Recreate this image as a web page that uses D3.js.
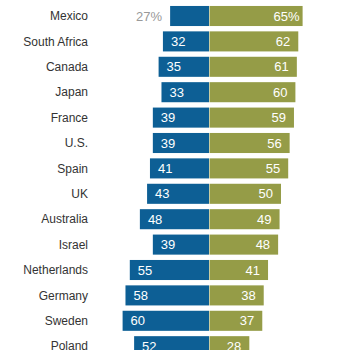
<!DOCTYPE html>
<html>
<head>
<meta charset="utf-8">
<script src="https://cdn.jsdelivr.net/npm/d3@7"></script>
<style>
  body { margin: 0; background: #fff; }
  svg { display: block; font-family: "Liberation Sans", Arial, sans-serif; }
</style>
</head>
<body>
<div id="chart"></div>
<script>
const countries = ["Mexico", "South Africa", "Canada", "Japan", "France", "U.S.", "Spain",
  "UK", "Australia", "Israel", "Netherlands", "Germany", "Sweden", "Poland"];
const leftValues = [27, 32, 35, 33, 39, 39, 41, 43, 48, 39, 55, 58, 60, 52];
const rightValues = [65, 62, 61, 60, 59, 56, 55, 50, 49, 48, 41, 38, 37, 28];

const width = 350, height = 350;
const blue = "#0d5f95", green = "#959c47";

const rows = countries.map((c, i) => ({ country: c, left: leftValues[i], right: rightValues[i], i }));

const svg = d3.select("#chart").append("svg")
  .attr("width", width)
  .attr("height", height);

// center at ~209px, 1.44px per point
const x = d3.scaleLinear().domain([-100, 100]).range([209 - 144, 209 + 144]);
const y = d3.scaleBand()
  .domain(countries)
  .range([3.3, 3.3 + 14 * 25.4])
  .paddingInner(0.21)
  .paddingOuter(0.105);

const row = svg.selectAll(".row")
  .data(rows)
  .join("g")
  .attr("class", "row")
  .attr("transform", d => `translate(0,${y(d.country)})`);

// country labels
row.append("text")
  .attr("x", 88)
  .attr("y", y.bandwidth() / 2)
  .attr("dy", "0.35em")
  .attr("text-anchor", "end")
  .attr("fill", "#333")
  .style("font-size", "12px")
  .text(d => d.country);

// left (blue) bars
row.append("rect")
  .attr("x", d => x(-d.left))
  .attr("width", d => x(0) - x(-d.left))
  .attr("height", y.bandwidth())
  .attr("fill", blue);

// right (green) bars
row.append("rect")
  .attr("x", x(0) + 0.5)
  .attr("width", d => x(d.right) - x(0) - 0.5)
  .attr("height", y.bandwidth())
  .attr("fill", green);

// blue value labels (first row sits outside in grey)
row.append("text")
  .attr("x", d => d.i === 0 ? x(-d.left) - 8 : x(-d.left) + 8)
  .attr("y", y.bandwidth() / 2)
  .attr("dy", "0.36em")
  .attr("text-anchor", d => d.i === 0 ? "end" : "start")
  .attr("fill", d => d.i === 0 ? "#999" : "#fff")
  .style("font-size", "13px")
  .text(d => d.i === 0 ? d.left + "%" : d.left);

// green value labels
row.append("text")
  .attr("x", d => d.i === 0 ? x(d.right) - 3 : x(d.right) - 8)
  .attr("y", y.bandwidth() / 2)
  .attr("dy", "0.36em")
  .attr("text-anchor", "end")
  .attr("fill", "#fff")
  .style("font-size", "13px")
  .text(d => d.i === 0 ? d.right + "%" : d.right);
</script>
</body>
</html>
